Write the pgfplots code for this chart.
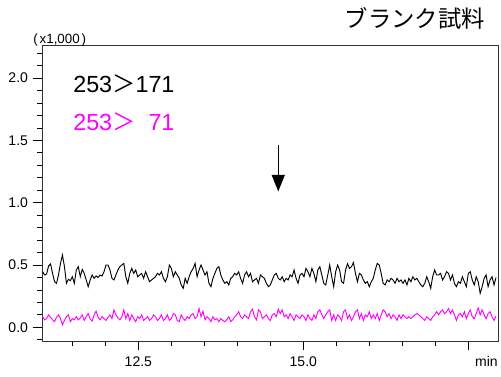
\documentclass[border=0pt]{standalone}
\usepackage{pgfplots}
\pgfplotsset{compat=1.18}
\usepackage{pgfplotstable}
\usepackage{fontspec}
\setmainfont{Liberation Sans}
\newfontfamily\cjk{Noto Sans CJK JP}
\usetikzlibrary{arrows.meta}
\definecolor{mag}{RGB}{255,0,255}
\pgfplotstableread{
x k m
11.05 0.446 0.085
11.08 0.42 0.06
11.11 0.428 0.07
11.14 0.492 0.10
11.17 0.508 0.08
11.20 0.433 0.06
11.23 0.366 0.045
11.26 0.353 0.08
11.29 0.42 0.10
11.32 0.513 0.07
11.35 0.58 0.02
11.38 0.487 0.055
11.41 0.353 0.085
11.44 0.385 0.10
11.47 0.374 0.045
11.50 0.406 0.07
11.53 0.353 0.06
11.56 0.46 0.085
11.59 0.487 0.06
11.62 0.406 0.075
11.65 0.465 0.10
11.68 0.433 0.055
11.71 0.38 0.085
11.74 0.326 0.11
11.77 0.38 0.065
11.80 0.42 0.05
11.83 0.393 0.10
11.86 0.412 0.13
11.89 0.40 0.08
11.92 0.42 0.06
11.95 0.412 0.085
11.98 0.446 0.07
12.01 0.50 0.055
12.04 0.50 0.08
12.07 0.46 0.10
12.10 0.393 0.07
12.13 0.38 0.14
12.16 0.42 0.10
12.19 0.46 0.075
12.22 0.487 0.06
12.25 0.50 0.085
12.28 0.513 0.14
12.31 0.406 0.07
12.34 0.353 0.11
12.37 0.433 0.055
12.40 0.473 0.10
12.43 0.433 0.07
12.46 0.46 0.045
12.49 0.406 0.085
12.52 0.42 0.07
12.55 0.433 0.10
12.58 0.393 0.055
12.61 0.446 0.07
12.64 0.406 0.085
12.67 0.366 0.055
12.70 0.38 0.07
12.73 0.393 0.10
12.76 0.406 0.085
12.79 0.433 0.055
12.82 0.42 0.07
12.85 0.446 0.10
12.88 0.393 0.055
12.91 0.366 0.07
12.94 0.406 0.10
12.97 0.50 0.055
13.00 0.473 0.07
13.03 0.406 0.11
13.06 0.446 0.10
13.09 0.42 0.055
13.12 0.393 0.045
13.15 0.34 0.10
13.18 0.313 0.07
13.21 0.393 0.055
13.24 0.353 0.085
13.27 0.406 0.07
13.30 0.446 0.10
13.33 0.473 0.11
13.36 0.513 0.07
13.39 0.406 0.085
13.42 0.46 0.15
13.45 0.50 0.085
13.48 0.46 0.13
13.51 0.42 0.06
13.54 0.446 0.085
13.57 0.353 0.07
13.60 0.326 0.045
13.63 0.393 0.085
13.66 0.433 0.06
13.69 0.473 0.07
13.72 0.487 0.045
13.75 0.42 0.07
13.78 0.38 0.055
13.81 0.353 0.045
13.84 0.366 0.06
13.87 0.34 0.085
13.90 0.393 0.045
13.93 0.406 0.06
13.96 0.433 0.085
13.99 0.42 0.10
14.02 0.446 0.125
14.05 0.393 0.085
14.08 0.353 0.07
14.11 0.42 0.10
14.14 0.446 0.085
14.17 0.406 0.07
14.20 0.433 0.125
14.23 0.366 0.145
14.26 0.38 0.085
14.29 0.393 0.06
14.32 0.353 0.14
14.35 0.42 0.125
14.38 0.406 0.07
14.41 0.393 0.085
14.44 0.353 0.10
14.47 0.326 0.07
14.50 0.34 0.055
14.53 0.38 0.10
14.56 0.42 0.11
14.59 0.433 0.085
14.62 0.393 0.145
14.65 0.38 0.11
14.68 0.406 0.14
14.71 0.366 0.085
14.74 0.393 0.10
14.77 0.38 0.07
14.80 0.42 0.11
14.83 0.406 0.085
14.86 0.46 0.055
14.89 0.393 0.10
14.92 0.353 0.085
14.95 0.42 0.07
14.98 0.433 0.10
15.01 0.406 0.085
15.04 0.473 0.055
15.07 0.446 0.10
15.10 0.406 0.07
15.13 0.473 0.055
15.16 0.433 0.10
15.19 0.366 0.07
15.22 0.46 0.125
15.25 0.487 0.14
15.28 0.42 0.10
15.31 0.353 0.07
15.34 0.34 0.10
15.37 0.42 0.125
15.40 0.50 0.14
15.43 0.406 0.055
15.46 0.326 0.10
15.49 0.446 0.055
15.52 0.50 0.10
15.55 0.46 0.085
15.58 0.366 0.055
15.61 0.353 0.125
15.64 0.46 0.14
15.67 0.51 0.07
15.70 0.473 0.10
15.73 0.487 0.055
15.76 0.52 0.085
15.79 0.433 0.125
15.82 0.366 0.14
15.85 0.433 0.07
15.88 0.42 0.11
15.91 0.38 0.055
15.94 0.353 0.10
15.97 0.366 0.085
16.00 0.326 0.125
16.03 0.366 0.07
16.06 0.393 0.10
16.09 0.46 0.07
16.12 0.513 0.11
16.15 0.50 0.055
16.18 0.433 0.10
16.21 0.353 0.14
16.24 0.34 0.125
16.27 0.38 0.085
16.30 0.366 0.11
16.33 0.393 0.07
16.36 0.38 0.10
16.39 0.353 0.085
16.42 0.393 0.055
16.45 0.366 0.10
16.48 0.38 0.07
16.51 0.353 0.10
16.54 0.38 0.085
16.57 0.34 0.07
16.60 0.393 0.085
16.63 0.366 0.07
16.66 0.406 0.085
16.69 0.38 0.10
16.72 0.393 0.11
16.75 0.366 0.10
16.78 0.34 0.085
16.81 0.326 0.07
16.84 0.353 0.055
16.87 0.406 0.085
16.90 0.366 0.07
16.93 0.313 0.055
16.96 0.406 0.085
16.99 0.46 0.10
17.02 0.42 0.125
17.05 0.42 0.10
17.08 0.433 0.125
17.11 0.38 0.14
17.14 0.406 0.11
17.17 0.446 0.125
17.20 0.433 0.15
17.23 0.38 0.11
17.26 0.42 0.14
17.29 0.353 0.10
17.32 0.326 0.055
17.35 0.366 0.10
17.38 0.353 0.11
17.41 0.406 0.085
17.44 0.366 0.125
17.47 0.326 0.07
17.50 0.433 0.11
17.53 0.446 0.14
17.56 0.38 0.085
17.59 0.34 0.07
17.62 0.406 0.11
17.65 0.366 0.155
17.68 0.273 0.10
17.71 0.326 0.14
17.74 0.393 0.10
17.77 0.42 0.07
17.80 0.326 0.11
17.83 0.38 0.125
17.86 0.406 0.085
17.89 0.34 0.055
17.92 0.40 0.09
}\datatable

\begin{document}
\begin{tikzpicture}
\begin{axis}[
  scale only axis, width=342pt, height=222pt,
  xmin=11.04, xmax=17.95, ymin=-0.11, ymax=2.266,
  clip mode=individual,
  axis line style={black!80, line width=0.6pt},
  xtick={12.5,15,17.5}, xticklabels={12.5,15.0,{}},
  minor xtick={11.5,12,13,13.5,14,14.5,15.5,16,16.5,17},
  ytick={0,0.5,1,1.5,2},
  minor ytick={-0.1,0.1,0.2,0.3,0.4,0.6,0.7,0.8,0.9,1.1,1.2,1.3,1.4,1.6,1.7,1.8,1.9,2.1,2.2},
  tick align=outside, xtick pos=bottom, ytick pos=left,
  major tick length=7pt, minor tick length=3.5pt,
  every tick/.style={black, line width=0.6pt},
  yticklabel style={/pgf/number format/.cd, fixed, fixed zerofill, precision=1, assume math mode=true},
  ticklabel style={font=\fontsize{10.5}{12}\selectfont},
  xticklabel style={yshift=-1pt},
]
\addplot[black, line width=0.7pt] table[x=x, y=k] {\datatable};
\addplot[mag, line width=0.7pt] table[x=x, y=m] {\datatable};
\node[anchor=base west, font=\fontsize{17.5}{20}\selectfont, inner sep=0pt] at (axis cs:11.51,1.883) {253{\cjk ＞}171};
\node[anchor=base west, font=\fontsize{17.5}{20}\selectfont, text=mag, inner sep=0pt] at (axis cs:11.51,1.583) {253{\cjk ＞}\hphantom{1}71};
\draw[line width=1.1pt, -{Triangle[length=12.5pt,width=9.75pt]}] (axis cs:14.62,1.463) -- (axis cs:14.62,1.09);
\end{axis}
\node[anchor=base west, font=\fontsize{10}{12}\selectfont, inner sep=0pt, xshift=-6.75pt, yshift=1.5pt] at (current axis.north west) {(\kern1.5pt x1,000\kern1.5pt)};
\node[anchor=base east, font=\fontsize{17.5}{20}\selectfont\cjk, inner sep=0pt, xshift=-9.75pt, yshift=13.5pt] at (current axis.north east) {ブランク試料};
\node[anchor=base east, font=\fontsize{10.5}{12}\selectfont, inner sep=0pt, yshift=-19.3pt] at (current axis.south east) {min};
\pgfresetboundingbox
\path ([xshift=-31.5pt,yshift=-26.25pt]current axis.south west) rectangle ([xshift=2.25pt,yshift=33.75pt]current axis.north east);
\end{tikzpicture}
\end{document}
